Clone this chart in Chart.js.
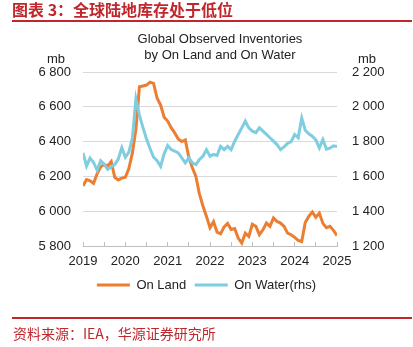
<!DOCTYPE html>
<html>
<head>
<meta charset="utf-8">
<script src="https://cdn.jsdelivr.net/npm/chart.js@4.4.1/dist/chart.umd.min.js"></script>
<style>
  body { margin: 0; width: 413px; height: 347px; position: relative; background: #fff; overflow: hidden;
         font-family: "Liberation Sans", Arial, sans-serif; }
  #chart { position: absolute; left: 0; top: 0; }
  .hdr { position: absolute; left: 12px; top: 0; font: bold 16px/18px "Noto Sans CJK SC"; color: #c0272d; white-space: nowrap; }
  .rule { position: absolute; left: 12px; width: 400px; height: 2px; background: #c0272d; }
  .ctitle { position: absolute; left: 120px; width: 200px; top: 31px; text-align: center; font-size: 13px; line-height: 16px; color: #222; }
  .unit { position: absolute; top: 51px; font-size: 13px; line-height: 16px; color: #222; }
  .src { position: absolute; left: 13px; top: 324px; font: 14px/18px "Noto Sans CJK SC"; color: #c0272d; white-space: nowrap; }
</style>
</head>
<body>
<canvas id="chart" width="413" height="347"></canvas>
<div class="hdr">图表 3：全球陆地库存处于低位</div>
<div class="rule" style="top:20px"></div>
<div class="ctitle">Global Observed Inventories<br>by On Land and On Water</div>
<div class="unit" style="left:47px">mb</div>
<div class="unit" style="left:358px">mb</div>
<div class="rule" style="top:317px;height:1.5px"></div>
<div class="src">资料来源：IEA，华源证券研究所</div>

<script>
// monthly, Jan 2019 .. Jan 2025
const years = ['2019', '2020', '2021', '2022', '2023', '2024', '2025'];

const onLand = [
  6145, 6182, 6175, 6160, 6215, 6255, 6268, 6260, 6285, 6195, 6180, 6190,
  6195, 6245, 6335, 6470, 6715, 6720, 6725, 6742, 6735, 6650, 6610, 6540,
  6518, 6480, 6450, 6415, 6400, 6410, 6310, 6250, 6200, 6100, 6030, 5970,
  5905, 5940, 5880, 5870, 5910, 5930, 5895, 5900, 5846, 5817, 5874, 5855,
  5925, 5913, 5865, 5893, 5932, 5913, 5961, 5941, 5932, 5913, 5874, 5865,
  5850, 5832, 5826, 5935, 5970, 5995, 5965, 5989, 5930, 5905, 5913, 5890,
  5860
];

const onWater = [
  1735, 1660, 1705, 1680, 1635, 1690, 1670, 1640, 1655, 1668, 1700, 1765,
  1710, 1740, 1820, 2045, 1950, 1880, 1815, 1760, 1710, 1690, 1658, 1730,
  1777, 1754, 1745, 1735, 1707, 1678, 1707, 1678, 1668, 1697, 1716, 1754,
  1716, 1726, 1720, 1773, 1754, 1773, 1754, 1802, 1841, 1879, 1918, 1879,
  1860, 1851, 1879, 1860, 1841, 1822, 1803, 1783, 1754, 1770, 1790, 1800,
  1841, 1822, 1935, 1865, 1845, 1831, 1810, 1764, 1812, 1756, 1762, 1776,
  1772
];

const landColor = '#ed7d31';
const waterColor = '#7fcde0';
const textColor = '#222';

Chart.defaults.font.family = '"Liberation Sans", Arial, sans-serif';
Chart.defaults.font.size = 13;

// 6 800 style thousands
const fmt = (v) => String(v).replace(/\B(?=(\d{3})+(?!\d))/g, ' ');

new Chart(document.getElementById('chart'), {
  type: 'line',
  data: {
    datasets: [
      {
        label: 'On Land',
        data: onLand.map((v, i) => ({ x: i, y: v })),
        yAxisID: 'y',
        borderColor: landColor,
        backgroundColor: landColor,
        borderWidth: 3,
        pointRadius: 0,
        order: 1,
      },
      {
        label: 'On Water(rhs)',
        data: onWater.map((v, i) => ({ x: i, y: v })),
        yAxisID: 'y1',
        borderColor: waterColor,
        backgroundColor: waterColor,
        borderWidth: 3,
        pointRadius: 0,
        order: 0,
      },
    ],
  },
  options: {
    responsive: false,
    animation: false,
    layout: { padding: { top: 72, left: 0, right: 0, bottom: 45.5 } },
    plugins: {
      title: { display: false },
      tooltip: { enabled: false },
      legend: {
        position: 'bottom',
        labels: {
          usePointStyle: true,
          pointStyle: 'line',
          pointStyleWidth: 33,
          padding: 8.5,
          color: textColor,
          sort: (a, b) => a.datasetIndex - b.datasetIndex,
        },
      },
    },
    scales: {
      x: {
        type: 'linear',
        min: 0,
        max: 72,
        afterFit: (s) => { s.height = 24; },
        border: { color: '#bfbfbf' },
        grid: { drawOnChartArea: false, tickLength: -4, color: '#bfbfbf' },
        ticks: {
          stepSize: 6,
          autoSkip: false,
          maxRotation: 0,
          minRotation: 0,
          padding: 12,
          color: textColor,
          callback: (v) => (v % 12 === 0 ? years[v / 12] : ''),
        },
      },
      y: {
        position: 'left',
        min: 5800,
        max: 6800,
        afterFit: (s) => { s.width = 83; },
        border: { display: false },
        grid: { color: '#d9d9d9', drawTicks: false },
        ticks: { stepSize: 200, padding: 12, color: textColor, callback: fmt },
      },
      y1: {
        position: 'right',
        min: 1200,
        max: 2200,
        afterFit: (s) => { s.width = 76; },
        border: { display: false },
        grid: { display: false, drawTicks: false },
        ticks: { stepSize: 200, padding: 15, color: textColor, callback: fmt },
      },
    },
  },
});
</script>
</body>
</html>
